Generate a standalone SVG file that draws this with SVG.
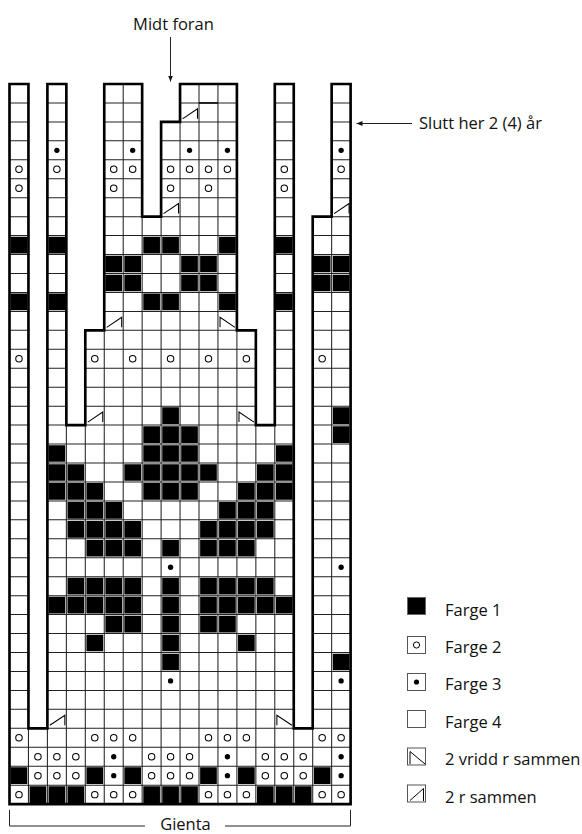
<svg xmlns="http://www.w3.org/2000/svg" xmlns:xlink="http://www.w3.org/1999/xlink" width="582" height="834" viewBox="0 0 582 834">
<defs>
<style>
.t{font-family:"Open Sans","Noto Sans","Liberation Sans",sans-serif;font-size:16.5px;fill:#111}
.grid{fill:none;stroke:#222;stroke-width:0.055}
.gap{fill:#fff}
.blk{fill:#000}
.ol{fill:none;stroke:#000;stroke-width:0.14;stroke-linejoin:miter}
.sym{fill:none;stroke:#000;stroke-width:0.055}
.o{fill:#fff;stroke:#000;stroke-width:0.055}
.d{fill:#000}
.lg{fill:#fff;stroke:#555;stroke-width:1}
.ln{fill:none;stroke:#222;stroke-width:1}
</style>
<circle id="o" class="o" r="0.17"/>
<circle id="d" class="d" r="0.14"/>
<marker id="ah" viewBox="0 0 6 5" refX="6" refY="2.5" markerWidth="6" markerHeight="5" markerUnits="userSpaceOnUse" orient="auto">
<path d="M0 0L6 2.5L0 5z" fill="#111"/>
</marker>
</defs>
<rect width="582" height="834" fill="#fff"/>

<g id="chart">
<svg x="9.5" y="84" width="341.1" height="720.1" viewBox="0 0 18 38" preserveAspectRatio="none" overflow="visible">
<path class="grid" d="M1 0V38M2 0V38M3 0V38M4 0V38M5 0V38M6 0V38M7 0V38M8 0V38M9 0V38M10 0V38M11 0V38M12 0V38M13 0V38M14 0V38M15 0V38M16 0V38M17 0V38M0 1H18M0 2H18M0 3H18M0 4H18M0 5H18M0 6H18M0 7H18M0 8H18M0 9H18M0 10H18M0 11H18M0 12H18M0 13H18M0 14H18M0 15H18M0 16H18M0 17H18M0 18H18M0 19H18M0 20H18M0 21H18M0 22H18M0 23H18M0 24H18M0 25H18M0 26H18M0 27H18M0 28H18M0 29H18M0 30H18M0 31H18M0 32H18M0 33H18M0 34H18M0 35H18M0 36H18M0 37H18"/>
<path class="gap" d="M1.04 -0.5H1.96V34H1.04Z M3.04 -0.5H4.96V13H4V18H3.04Z M7.04 -0.5H8.96V2H8V7H7.04Z M12.04 -0.5H13.96V18H13V13H12.04Z M15.04 -0.5H16.96V7H16V34H15.04Z"/>
<path class="blk" d="
M0.06 8.06h.88v.88h-.88zM2.06 8.06h.88v.88h-.88zM7.06 8.06h.88v.88h-.88zM8.06 8.06h.88v.88h-.88zM11.06 8.06h.88v.88h-.88zM14.06 8.06h.88v.88h-.88z
M5.06 9.06h.88v.88h-.88zM6.06 9.06h.88v.88h-.88zM9.06 9.06h.88v.88h-.88zM10.06 9.06h.88v.88h-.88zM16.06 9.06h.88v.88h-.88zM17.06 9.06h.88v.88h-.88z
M5.06 10.06h.88v.88h-.88zM6.06 10.06h.88v.88h-.88zM9.06 10.06h.88v.88h-.88zM10.06 10.06h.88v.88h-.88zM16.06 10.06h.88v.88h-.88zM17.06 10.06h.88v.88h-.88z
M0.06 11.06h.88v.88h-.88zM2.06 11.06h.88v.88h-.88zM7.06 11.06h.88v.88h-.88zM8.06 11.06h.88v.88h-.88zM11.06 11.06h.88v.88h-.88zM14.06 11.06h.88v.88h-.88z
M8.06 17.06h.88v.88h-.88zM17.06 17.06h.88v.88h-.88z
M7.06 18.06h.88v.88h-.88zM8.06 18.06h.88v.88h-.88zM9.06 18.06h.88v.88h-.88zM17.06 18.06h.88v.88h-.88z
M2.06 19.06h.88v.88h-.88zM7.06 19.06h.88v.88h-.88zM8.06 19.06h.88v.88h-.88zM9.06 19.06h.88v.88h-.88zM14.06 19.06h.88v.88h-.88z
M2.06 20.06h.88v.88h-.88zM3.06 20.06h.88v.88h-.88zM6.06 20.06h.88v.88h-.88zM7.06 20.06h.88v.88h-.88zM8.06 20.06h.88v.88h-.88zM9.06 20.06h.88v.88h-.88zM10.06 20.06h.88v.88h-.88zM13.06 20.06h.88v.88h-.88zM14.06 20.06h.88v.88h-.88z
M2.06 21.06h.88v.88h-.88zM3.06 21.06h.88v.88h-.88zM4.06 21.06h.88v.88h-.88zM7.06 21.06h.88v.88h-.88zM8.06 21.06h.88v.88h-.88zM9.06 21.06h.88v.88h-.88zM12.06 21.06h.88v.88h-.88zM13.06 21.06h.88v.88h-.88zM14.06 21.06h.88v.88h-.88z
M3.06 22.06h.88v.88h-.88zM4.06 22.06h.88v.88h-.88zM5.06 22.06h.88v.88h-.88zM11.06 22.06h.88v.88h-.88zM12.06 22.06h.88v.88h-.88zM13.06 22.06h.88v.88h-.88z
M3.06 23.06h.88v.88h-.88zM4.06 23.06h.88v.88h-.88zM5.06 23.06h.88v.88h-.88zM6.06 23.06h.88v.88h-.88zM10.06 23.06h.88v.88h-.88zM11.06 23.06h.88v.88h-.88zM12.06 23.06h.88v.88h-.88zM13.06 23.06h.88v.88h-.88z
M4.06 24.06h.88v.88h-.88zM5.06 24.06h.88v.88h-.88zM6.06 24.06h.88v.88h-.88zM8.06 24.06h.88v.88h-.88zM10.06 24.06h.88v.88h-.88zM11.06 24.06h.88v.88h-.88zM12.06 24.06h.88v.88h-.88z
M3.06 26.06h.88v.88h-.88zM4.06 26.06h.88v.88h-.88zM5.06 26.06h.88v.88h-.88zM6.06 26.06h.88v.88h-.88zM8.06 26.06h.88v.88h-.88zM10.06 26.06h.88v.88h-.88zM11.06 26.06h.88v.88h-.88zM12.06 26.06h.88v.88h-.88zM13.06 26.06h.88v.88h-.88z
M2.06 27.06h.88v.88h-.88zM3.06 27.06h.88v.88h-.88zM4.06 27.06h.88v.88h-.88zM5.06 27.06h.88v.88h-.88zM6.06 27.06h.88v.88h-.88zM8.06 27.06h.88v.88h-.88zM10.06 27.06h.88v.88h-.88zM11.06 27.06h.88v.88h-.88zM12.06 27.06h.88v.88h-.88zM13.06 27.06h.88v.88h-.88zM14.06 27.06h.88v.88h-.88z
M5.06 28.06h.88v.88h-.88zM6.06 28.06h.88v.88h-.88zM8.06 28.06h.88v.88h-.88zM10.06 28.06h.88v.88h-.88zM11.06 28.06h.88v.88h-.88z
M4.06 29.06h.88v.88h-.88zM8.06 29.06h.88v.88h-.88zM12.06 29.06h.88v.88h-.88z
M8.06 30.06h.88v.88h-.88zM17.06 30.06h.88v.88h-.88z
M0.06 36.06h.88v.88h-.88zM4.06 36.06h.88v.88h-.88zM6.06 36.06h.88v.88h-.88zM10.06 36.06h.88v.88h-.88zM12.06 36.06h.88v.88h-.88zM16.06 36.06h.88v.88h-.88z
M1.06 37.06h.88v.88h-.88zM2.06 37.06h.88v.88h-.88zM3.06 37.06h.88v.88h-.88zM7.06 37.06h.88v.88h-.88zM8.06 37.06h.88v.88h-.88zM9.06 37.06h.88v.88h-.88zM13.06 37.06h.88v.88h-.88zM14.06 37.06h.88v.88h-.88zM15.06 37.06h.88v.88h-.88z"/>
<g id="farge2">
<use xlink:href="#o" x="0.5" y="4.5"/><use xlink:href="#o" x="2.5" y="4.5"/><use xlink:href="#o" x="5.5" y="4.5"/><use xlink:href="#o" x="6.5" y="4.5"/><use xlink:href="#o" x="8.5" y="4.5"/><use xlink:href="#o" x="9.5" y="4.5"/><use xlink:href="#o" x="10.5" y="4.5"/><use xlink:href="#o" x="11.5" y="4.5"/><use xlink:href="#o" x="14.5" y="4.5"/><use xlink:href="#o" x="17.5" y="4.5"/>
<use xlink:href="#o" x="0.5" y="5.5"/><use xlink:href="#o" x="5.5" y="5.5"/><use xlink:href="#o" x="8.5" y="5.5"/><use xlink:href="#o" x="10.5" y="5.5"/><use xlink:href="#o" x="14.5" y="5.5"/>
<use xlink:href="#o" x="0.5" y="14.5"/><use xlink:href="#o" x="4.5" y="14.5"/><use xlink:href="#o" x="6.5" y="14.5"/><use xlink:href="#o" x="8.5" y="14.5"/><use xlink:href="#o" x="10.5" y="14.5"/><use xlink:href="#o" x="12.5" y="14.5"/><use xlink:href="#o" x="16.5" y="14.5"/>
<use xlink:href="#o" x="0.5" y="34.5"/><use xlink:href="#o" x="4.5" y="34.5"/><use xlink:href="#o" x="5.5" y="34.5"/><use xlink:href="#o" x="6.5" y="34.5"/><use xlink:href="#o" x="10.5" y="34.5"/><use xlink:href="#o" x="11.5" y="34.5"/><use xlink:href="#o" x="12.5" y="34.5"/><use xlink:href="#o" x="16.5" y="34.5"/><use xlink:href="#o" x="17.5" y="34.5"/>
<use xlink:href="#o" x="1.5" y="35.5"/><use xlink:href="#o" x="2.5" y="35.5"/><use xlink:href="#o" x="3.5" y="35.5"/><use xlink:href="#o" x="7.5" y="35.5"/><use xlink:href="#o" x="8.5" y="35.5"/><use xlink:href="#o" x="9.5" y="35.5"/><use xlink:href="#o" x="13.5" y="35.5"/><use xlink:href="#o" x="14.5" y="35.5"/><use xlink:href="#o" x="15.5" y="35.5"/>
<use xlink:href="#o" x="1.5" y="36.5"/><use xlink:href="#o" x="2.5" y="36.5"/><use xlink:href="#o" x="3.5" y="36.5"/><use xlink:href="#o" x="7.5" y="36.5"/><use xlink:href="#o" x="8.5" y="36.5"/><use xlink:href="#o" x="9.5" y="36.5"/><use xlink:href="#o" x="13.5" y="36.5"/><use xlink:href="#o" x="14.5" y="36.5"/><use xlink:href="#o" x="15.5" y="36.5"/>
<use xlink:href="#o" x="0.5" y="37.5"/><use xlink:href="#o" x="4.5" y="37.5"/><use xlink:href="#o" x="5.5" y="37.5"/><use xlink:href="#o" x="6.5" y="37.5"/><use xlink:href="#o" x="10.5" y="37.5"/><use xlink:href="#o" x="11.5" y="37.5"/><use xlink:href="#o" x="12.5" y="37.5"/><use xlink:href="#o" x="16.5" y="37.5"/><use xlink:href="#o" x="17.5" y="37.5"/>
</g>
<g id="farge3">
<use xlink:href="#d" x="2.5" y="3.5"/><use xlink:href="#d" x="6.5" y="3.5"/><use xlink:href="#d" x="9.5" y="3.5"/><use xlink:href="#d" x="11.5" y="3.5"/><use xlink:href="#d" x="17.5" y="3.5"/>
<use xlink:href="#d" x="8.5" y="25.5"/><use xlink:href="#d" x="17.5" y="25.5"/>
<use xlink:href="#d" x="8.5" y="31.5"/><use xlink:href="#d" x="17.5" y="31.5"/>
<use xlink:href="#d" x="5.5" y="35.5"/><use xlink:href="#d" x="11.5" y="35.5"/><use xlink:href="#d" x="17.5" y="35.5"/>
<use xlink:href="#d" x="5.5" y="36.5"/><use xlink:href="#d" x="11.5" y="36.5"/><use xlink:href="#d" x="17.5" y="36.5"/>
</g>
<path class="sym" d="M9.13 1.84l.79-.53v.53M8.13 6.84l.79-.53v.53M17.13 6.84l.79-.53v.53M5.13 12.84l.79-.53v.53M4.13 17.84l.79-.53v.53M2.13 33.84l.79-.53v.53"/>
<path class="sym" d="M11.11 12.84v-.53l.79.53M12.11 17.84v-.53l.79.53M14.11 33.84v-.53l.79.53"/>
<path fill="none" stroke="#000" stroke-width="0.08" d="M10 1H11"/>
<path class="ol" d="M0 0H1V34H2V0H3V18H4V13H5V0H7V7H8V2H9V0H12V13H13V18H14V0H15V34H16V7H17V0H18V38H0Z"/>
</svg>
</g>

<g id="labels">
<text class="t" x="173.5" y="30" text-anchor="middle">Midt foran</text>
<text class="t" x="419" y="128.5">Slutt her 2 (4) år</text>
<text class="t" x="185.5" y="830" text-anchor="middle">Gienta</text>
</g>

<g id="connectors">
<line class="ln" x1="170.5" y1="37" x2="170.5" y2="81.5" marker-end="url(#ah)"/>
<line class="ln" x1="412" y1="123.5" x2="356.5" y2="123.5" marker-end="url(#ah)"/>
<path class="ln" d="M9.5 810V826H145M225 826H350.5V810"/>
</g>

<g id="legend">
<rect x="407.5" y="597.5" width="18" height="17" fill="#000" stroke="#666" stroke-width="1"/>
<text class="t" x="445" y="615.5">Farge 1</text>
<rect class="lg" x="407.5" y="636.5" width="18" height="17"/>
<circle cx="416.5" cy="645" r="3.1" fill="#fff" stroke="#000" stroke-width="1"/>
<text class="t" x="445" y="652.5">Farge 2</text>
<rect class="lg" x="407.5" y="673.5" width="18" height="17"/>
<circle cx="416.5" cy="682" r="2.6" fill="#000"/>
<text class="t" x="445" y="690">Farge 3</text>
<rect class="lg" x="407.5" y="710.5" width="18" height="17"/>
<text class="t" x="445" y="727.5">Farge 4</text>
<rect class="lg" x="407.5" y="748" width="18" height="17"/>
<path fill="none" stroke="#000" stroke-width="1" d="M410 764V751.5L425 764"/>
<text class="t" x="445" y="765">2 vridd r sammen</text>
<rect class="lg" x="407.5" y="785" width="18" height="17"/>
<path fill="none" stroke="#000" stroke-width="1" d="M410 800.5L423.5 788.5V801"/>
<text class="t" x="445" y="802.5">2 r sammen</text>
</g>
</svg>
